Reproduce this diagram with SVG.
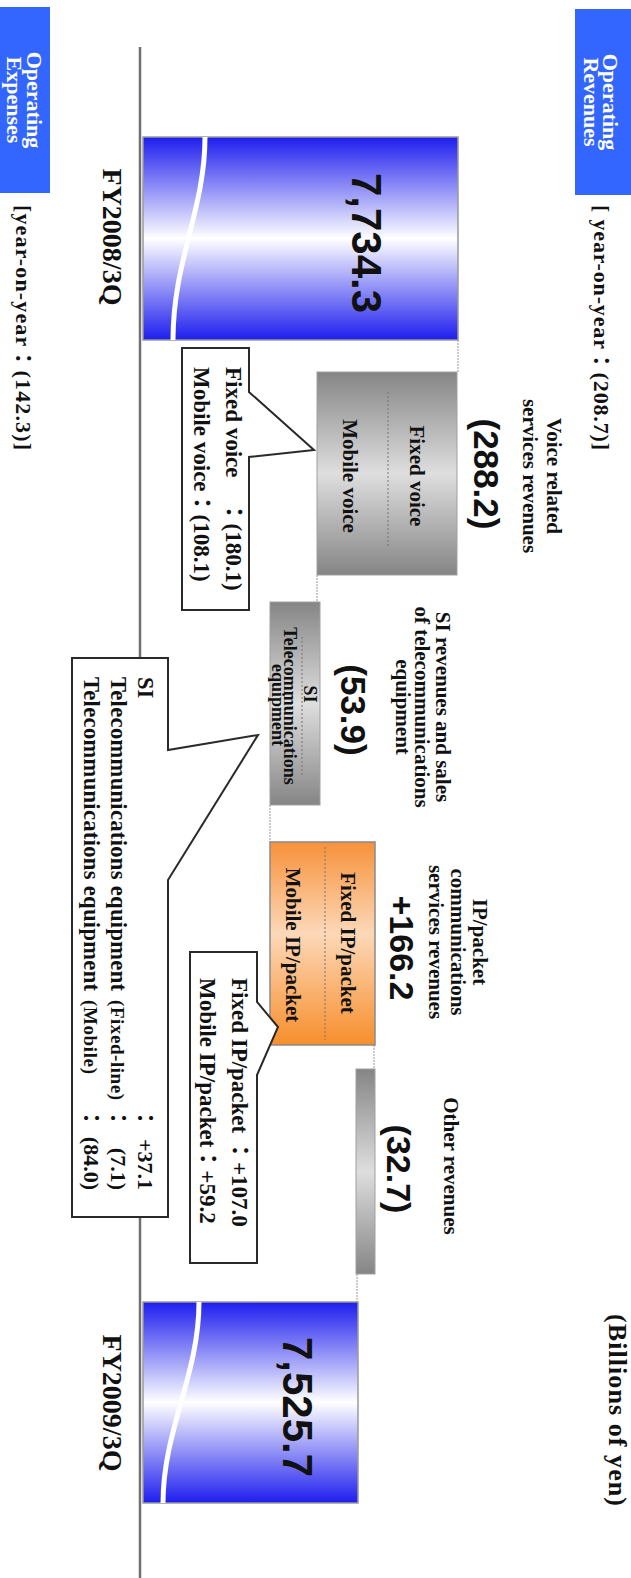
<svg xmlns="http://www.w3.org/2000/svg" width="631" height="1578" viewBox="0 0 631 1578">
<defs>
<linearGradient id="gBlue" x1="0" y1="0" x2="1" y2="0">
<stop offset="0" stop-color="#1e1eee"/><stop offset="0.5" stop-color="#ffffff"/><stop offset="1" stop-color="#1e1eee"/>
</linearGradient>
<linearGradient id="gGray" x1="0" y1="0" x2="1" y2="0">
<stop offset="0" stop-color="#858585"/><stop offset="0.5" stop-color="#dedede"/><stop offset="1" stop-color="#858585"/>
</linearGradient>
<linearGradient id="gOrange" x1="0" y1="0" x2="1" y2="0">
<stop offset="0" stop-color="#f7913a"/><stop offset="0.45" stop-color="#fcd8b8"/><stop offset="1" stop-color="#f78e2c"/>
</linearGradient>
</defs>
<style>
.lbl{font-family:"Liberation Serif","Times New Roman","Noto Sans CJK JP",serif;font-weight:bold;fill:#111}
.num{font-family:"Liberation Sans",Arial,sans-serif;font-weight:bold;fill:#111}
.hdr{font-family:"Liberation Serif","Times New Roman",serif;font-weight:bold;fill:#fff;font-size:22px}
.mid{text-anchor:middle}
.end{text-anchor:end}
.hbox{fill:#3366ff}
.bar{fill:url(#gBlue);stroke:#9a9a9a;stroke-width:1.5}
.wave{fill:none;stroke:#fff;stroke-width:5}
.gbox{fill:url(#gGray);stroke:#a0a0a0;stroke-width:1}
.obox{fill:url(#gOrange);stroke:#8a8a8a;stroke-width:1.5}
.dot{stroke:#777;stroke-width:1;stroke-dasharray:2 2;fill:none}
.call{fill:#fff;stroke:#2a2a2a;stroke-width:2}
.conn{stroke:#999;stroke-width:1;stroke-dasharray:2 1;fill:none}
.axis{stroke:#707070;stroke-width:2.5}
</style>
<rect x="0" y="0" width="631" height="1578" fill="#fff"/>
<g transform="translate(631,0) rotate(90)">

<g id="header-revenues">
<rect class="hbox" x="9" y="0" width="186" height="56"/>
<text class="hdr mid" x="102" y="28">Operating</text>
<text class="hdr mid" x="102" y="47">Revenues</text>
<text class="lbl" x="205" y="37" font-size="22" textLength="245" lengthAdjust="spacing">[ year-on-year：(208.7)]</text>
</g>

<g id="header-expenses">
<rect class="hbox" x="7" y="581" width="186" height="50"/>
<text class="hdr mid" x="100" y="604">Operating</text>
<text class="hdr mid" x="100" y="624">Expenses</text>
<text class="lbl" x="205" y="615" font-size="22" textLength="245" lengthAdjust="spacing">[year-on-year：(142.3)]</text>
</g>

<g id="unit">
<text class="lbl mid" x="1410" y="22" font-size="26" textLength="192" lengthAdjust="spacing">(Billions of yen)</text>
</g>

<g id="axis">
<line class="axis" x1="47" y1="491" x2="1578" y2="491"/>
</g>

<g id="connectors">
<line class="conn" x1="340" y1="173" x2="372" y2="173"/>
<line class="conn" x1="575" y1="314" x2="602" y2="314"/>
<line class="conn" x1="805" y1="361" x2="842" y2="361"/>
<line class="conn" x1="1045" y1="257" x2="1069" y2="257"/>
<line class="conn" x1="1274" y1="274" x2="1302" y2="274"/>
</g>

<g id="bar-fy2008">
<rect class="bar" x="137" y="173" width="203" height="315"/>
<path class="wave" d="M137,426 C210,426 260,458 340,458"/>
<text class="num mid" x="243" y="279" font-size="42">7,734.3</text>
<text class="lbl mid" x="237" y="528" font-size="28">FY2008/3Q</text>
</g>

<g id="voice">
<rect class="gbox" x="372" y="174" width="203" height="140"/>
<line class="dot" x1="392" y1="243" x2="547" y2="243"/>
<text class="lbl mid" x="476" y="221" font-size="21">Fixed voice</text>
<text class="lbl mid" x="476" y="288" font-size="21">Mobile voice</text>
<text class="lbl mid" x="476" y="84" font-size="21">Voice related</text>
<text class="lbl mid" x="476" y="108" font-size="21">services revenues</text>
<text class="num mid" x="474" y="157" font-size="35">(288.2)</text>
</g>

<g id="si">
<rect class="gbox" x="602" y="311" width="203" height="50"/>
<line class="dot" x1="637" y1="329" x2="775" y2="329"/>
<text class="lbl mid" x="694" y="327" font-size="18">SI</text>
<text class="lbl mid" x="706" y="347" font-size="18">Telecommunications</text>
<text class="lbl mid" x="705" y="359" font-size="18">equipment</text>
<text class="lbl mid" x="707" y="195" font-size="21">SI revenues and sales</text>
<text class="lbl mid" x="707" y="216" font-size="21">of telecommunications</text>
<text class="lbl mid" x="707" y="235" font-size="21">equipment</text>
<text class="num mid" x="710" y="290" font-size="35">(53.9)</text>
</g>

<g id="ip">
<rect class="obox" x="842" y="256" width="203" height="105"/>
<line class="dot" x1="847" y1="306" x2="1040" y2="306"/>
<text class="lbl mid" x="943" y="290" font-size="21">Fixed IP/packet</text>
<text class="lbl mid" x="945" y="345" font-size="21">Mobile IP/packet</text>
<text class="lbl mid" x="942" y="158" font-size="21">IP/packet</text>
<text class="lbl mid" x="942" y="180" font-size="21">communications</text>
<text class="lbl mid" x="942" y="202" font-size="21">services revenues</text>
<text class="num mid" x="948" y="241" font-size="34">+166.2</text>
</g>

<g id="other">
<rect class="gbox" x="1069" y="256" width="205" height="19"/>
<text class="lbl mid" x="1166" y="187" font-size="21">Other revenues</text>
<text class="num mid" x="1169" y="244" font-size="34">(32.7)</text>
</g>

<g id="bar-fy2009">
<rect class="bar" x="1302" y="273" width="201" height="215"/>
<path class="wave" d="M1302,432 C1375,432 1430,468 1503,468"/>
<text class="num mid" x="1407" y="348" font-size="42">7,525.7</text>
<text class="lbl mid" x="1403" y="528" font-size="28">FY2009/3Q</text>
</g>

<g id="callout-voice">
<path class="call" d="M348,382 L392,382 L450,317 L457,382 L610,382 L610,449 L348,449 Z"/>
<text class="lbl" x="367" y="405" font-size="23">Fixed voice　：(180.1)</text>
<text class="lbl" x="367" y="437" font-size="23">Mobile voice：(108.1)</text>
</g>

<g id="callout-si">
<path class="call" d="M658,463 L750,463 L735,373 L880,463 L1217,463 L1217,559 L658,559 Z"/>
<text class="lbl" x="677" y="493" font-size="22.5">SI</text>
<text class="lbl" x="677" y="520" font-size="22.5" textLength="314" lengthAdjust="spacing">Telecommunications equipment</text>
<text class="lbl" x="1000" y="520" font-size="19" textLength="100" lengthAdjust="spacing">(Fixed-line)</text>
<text class="lbl" x="677" y="547" font-size="22.5" textLength="314" lengthAdjust="spacing">Telecommunications equipment</text>
<text class="lbl" x="1000" y="547" font-size="19" textLength="74" lengthAdjust="spacing">(Mobile)</text>
<text class="lbl mid" x="1118" y="493" font-size="22">：</text>
<text class="lbl mid" x="1118" y="520" font-size="22">：</text>
<text class="lbl mid" x="1118" y="547" font-size="22">：</text>
<text class="lbl end" x="1190" y="493" font-size="22">+37.1</text>
<text class="lbl end" x="1190" y="520" font-size="22">(7.1)</text>
<text class="lbl end" x="1190" y="547" font-size="22">(84.0)</text>
</g>

<g id="callout-ip">
<path class="call" d="M952,374 L1002,374 L1027,353 L1075,374 L1263,374 L1263,441 L952,441 Z"/>
<text class="lbl" x="978" y="399" font-size="23">Fixed IP/packet ：+107.0</text>
<text class="lbl" x="978" y="431" font-size="23">Mobile IP/packet：+59.2</text>
</g>

</g>
</svg>
